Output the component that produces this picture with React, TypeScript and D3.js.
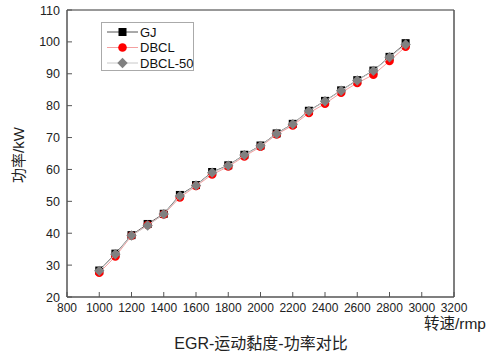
import React from "react";
import * as d3 from "d3";

const speeds = [1000, 1100, 1200, 1300, 1400, 1500, 1600, 1700, 1800, 1900, 2000, 2100, 2200, 2300, 2400, 2500, 2600, 2700, 2800, 2900];
const gj = [28.3, 33.6, 39.4, 42.9, 46.1, 52.0, 55.1, 59.2, 61.3, 64.6, 67.5, 71.3, 74.3, 78.4, 81.5, 84.8, 88.0, 91.0, 95.3, 99.6];
const dbcl = [27.6, 32.7, 39.2, 42.6, 45.9, 51.2, 54.8, 58.4, 60.9, 64.1, 67.1, 71.0, 73.8, 77.7, 80.6, 84.1, 87.1, 89.7, 94.0, 98.5];
const dbcl50 = [28.2, 33.4, 39.3, 42.4, 46.0, 51.7, 55.0, 59.0, 61.2, 64.5, 67.4, 71.2, 74.2, 78.3, 81.4, 84.7, 87.9, 90.9, 95.2, 99.2];
const xTicks = [800, 1000, 1200, 1400, 1600, 1800, 2000, 2200, 2400, 2600, 2800, 3000, 3200];
const yTicks = [20, 30, 40, 50, 60, 70, 80, 90, 100, 110];
const seriesNames = ["GJ", "DBCL", "DBCL-50"];

const W = 491, H = 363;
const L = 67, R = 454, T = 10, B = 297;
const FONT = "'Liberation Sans', Arial, 'Noto Sans CJK SC', sans-serif";
const CJK = "'Liberation Sans', 'Noto Sans CJK SC', sans-serif";

export default function App() {
  const x = d3.scaleLinear().domain([800, 3200]).range([L, R]);
  const y = d3.scaleLinear().domain([20, 110]).range([B, T]);
  const line = d3.line<number>().x((_, i) => x(speeds[i])).y((v) => y(v));

  const series = [
    { name: seriesNames[0], data: gj, line: "#555555", fill: "#000000", shape: "square" },
    { name: seriesNames[1], data: dbcl, line: "#f4a0a0", fill: "#ff0000", shape: "circle" },
    { name: seriesNames[2], data: dbcl50, line: "#c8c8c8", fill: "#808080", shape: "diamond" },
  ];

  const marker = (shape: string, cx: number, cy: number, fill: string, key: any) => {
    if (shape === "square") return <rect key={key} x={cx - 4} y={cy - 4} width={8} height={8} fill={fill} />;
    if (shape === "circle") return <circle key={key} cx={cx} cy={cy} r={4.3} fill={fill} />;
    const s = 5.2;
    return <path key={key} d={`M${cx},${cy - s}L${cx + s},${cy}L${cx},${cy + s}L${cx - s},${cy}Z`} fill={fill} />;
  };

  return (
    <svg width={W} height={H} style={{ position: "absolute", left: 0, top: 0, background: "#fff" }}>
      <rect x={0} y={0} width={W} height={H} fill="#fff" />
      {/* frame */}
      <line x1={L} y1={T} x2={R} y2={T} stroke="#333" strokeWidth={1} />
      <line x1={R} y1={T} x2={R} y2={B} stroke="#555" strokeWidth={1.5} />
      <line x1={L} y1={T} x2={L} y2={B} stroke="#555" strokeWidth={1.5} />
      <line x1={L} y1={B} x2={R} y2={B} stroke="#555" strokeWidth={1.5} />
      {/* ticks */}
      {xTicks.map((t) => (
        <g key={"x" + t}>
          <line x1={x(t)} x2={x(t)} y1={B} y2={B - 5} stroke="#555" strokeWidth={1} />
          <text x={x(t)} y={B + 15} textAnchor="middle" fontSize={12} fontFamily={FONT} fill="#222">{t}</text>
        </g>
      ))}
      {yTicks.map((t) => (
        <g key={"y" + t}>
          <line x1={L} x2={L + 5} y1={y(t)} y2={y(t)} stroke="#555" strokeWidth={1} />
          <text x={L - 7} y={y(t) + 4.5} textAnchor="end" fontSize={12.5} fontFamily={FONT} fill="#222">{t}</text>
        </g>
      ))}
      {/* series */}
      {series.map((s) => (
        <g key={s.name}>
          <path d={line(s.data) || ""} fill="none" stroke={s.line} strokeWidth={1} />
          {s.data.map((v, i) => marker(s.shape, x(speeds[i]), y(v), s.fill, i))}
        </g>
      ))}
      {/* legend */}
      <rect x={101.5} y={22.5} width={92} height={48} fill="#fff" stroke="#aaa" strokeWidth={1} />
      {series.map((s, i) => {
        const ly = 32 + i * 15.5;
        return (
          <g key={"lg" + s.name}>
            <line x1={107} x2={138} y1={ly} y2={ly} stroke={s.line} strokeWidth={1} />
            {marker(s.shape, 122.5, ly, s.fill, "m")}
            <text x={140} y={ly + 4.5} fontSize={13} fontFamily={FONT} fill="#111">{s.name}</text>
          </g>
        );
      })}
      {/* axis labels */}
      <text x={486} y={329} textAnchor="end" fontSize={15.5} fontFamily={CJK} fill="#222">转速/rmp</text>
      <text transform={`translate(24,${155}) rotate(-90)`} textAnchor="middle" fontSize={15} fontFamily={CJK} fill="#222">功率/kW</text>
      <text x={261} y={349} textAnchor="middle" fontSize={16} fontFamily={CJK} fill="#222">EGR-运动黏度-功率对比</text>
    </svg>
  );
}
